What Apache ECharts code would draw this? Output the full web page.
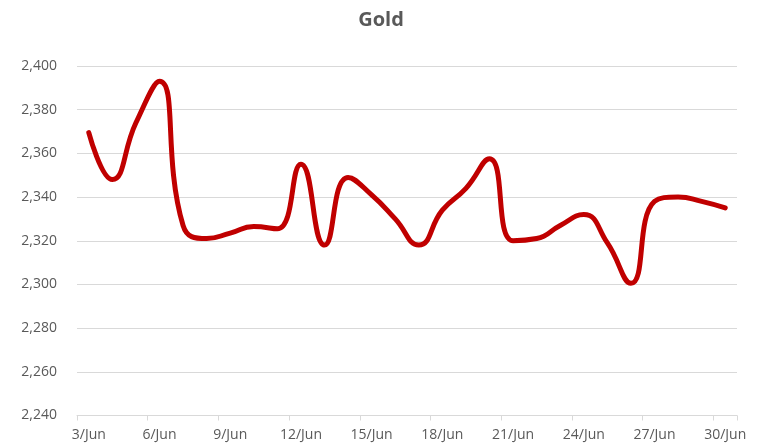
<!DOCTYPE html>
<html>
<head>
<meta charset="utf-8">
<script src="https://cdn.jsdelivr.net/npm/echarts@6/dist/echarts.min.js"></script>
<style>html,body{margin:0;padding:0;background:#fff}#c{width:762px;height:445px}</style>
</head>
<body>
<div id="c"></div>
<script>
var categories = ['3/Jun','4/Jun','5/Jun','6/Jun','7/Jun','8/Jun','9/Jun','10/Jun','11/Jun','12/Jun','13/Jun','14/Jun','15/Jun','16/Jun','17/Jun','18/Jun','19/Jun','20/Jun','21/Jun','22/Jun','23/Jun','24/Jun','25/Jun','26/Jun','27/Jun','28/Jun','29/Jun','30/Jun'];
var goldValues = [2369.5, 2348, 2374, 2393, 2327, 2321, 2323.5, 2326.5, 2325.5, 2355, 2318, 2349, 2341, 2330, 2318, 2334, 2344, 2357.5, 2320, 2321, 2327, 2332, 2319, 2300.5, 2338, 2340, 2338, 2335];
var yMin = 2240, yMax = 2400, yStep = 20;

var chart = echarts.init(document.getElementById('c'), null, {renderer: 'canvas'});
chart.setOption({
  animation: false,
  title: {
    text: 'Gold', left: 'center', top: 5,
    textStyle: {fontFamily: 'Open Sans', fontSize: 20, fontWeight: 'bold', color: '#595959'}
  },
  grid: {left: 77, right: 25, top: 66, bottom: 29.5, containLabel: false},
  xAxis: {
    type: 'category', data: categories, boundaryGap: true,
    axisLine: {lineStyle: {color: '#d9d9d9', width: 1}},
    axisTick: {show: true, interval: 2, length: 5, lineStyle: {color: '#d9d9d9'}},
    axisLabel: {interval: 2, color: '#595959', fontFamily: 'Open Sans', fontSize: 14, margin: 13}
  },
  yAxis: {
    type: 'value', min: yMin, max: yMax, interval: yStep,
    axisLine: {show: false}, axisTick: {show: false},
    splitLine: {lineStyle: {color: '#d9d9d9', width: 1}},
    axisLabel: {color: '#595959', fontFamily: 'Open Sans', fontSize: 14, margin: 20,
      formatter: function (v) { return v.toString().replace(/\B(?=(\d{3})+(?!\d))/g, ','); }}
  },
  series: [{
    type: 'line', data: goldValues, smooth: 0.5, symbol: 'none',
    lineStyle: {color: '#c00000', width: 5, cap: 'round', join: 'round'}
  }]
});
</script>
</body>
</html>
